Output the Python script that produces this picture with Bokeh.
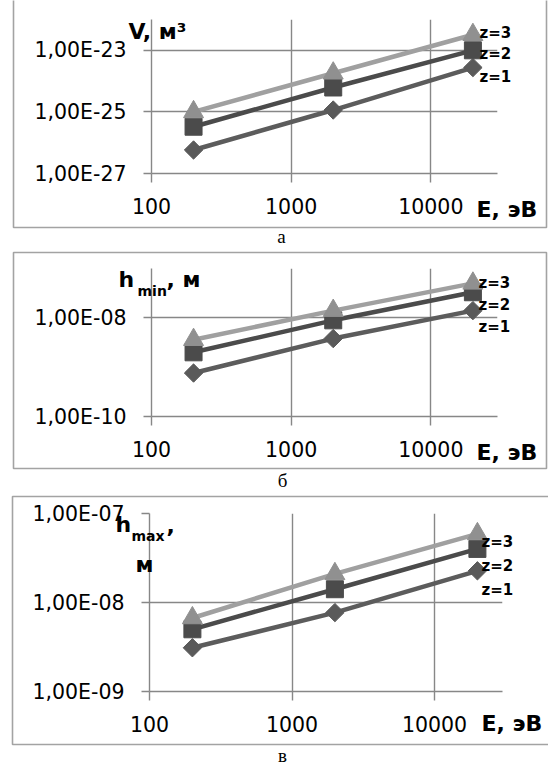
import math

from bokeh.plotting import figure
from bokeh.layouts import column
from bokeh.models import Range1d, FixedTicker, CustomJSTickFormatter, Label
from bokeh.embed import file_html
from bokeh.resources import INLINE

# ---- data -------------------------------------------------------------
energy_ev = [200, 2000, 20000]
series_names = ["z=1", "z=2", "z=3"]

volume_z1 = [5.8e-27, 1.15e-25, 2.75e-24]
volume_z2 = [3.3e-26, 6.2e-25, 1.0e-23]
volume_z3 = [1.0e-25, 1.8e-24, 3.2e-23]

hmin_z1 = [7.6e-10, 3.8e-9, 1.4e-8]
hmin_z2 = [2.0e-9, 8.9e-9, 3.3e-8]
hmin_z3 = [3.6e-9, 1.4e-8, 5.0e-8]

hmax_z1 = [3.1e-9, 7.7e-9, 2.27e-8]
hmax_z2 = [5.0e-9, 1.41e-8, 4.0e-8]
hmax_z3 = [6.7e-9, 2.1e-8, 5.9e-8]

x_ticks = [100, 1000, 10000]
x_tick_labels = ["100", "1000", "10000"]
volume_ticks = [1e-27, 1e-25, 1e-23]
volume_tick_labels = ["1,00E-27", "1,00E-25", "1,00E-23"]
hmin_ticks = [1e-10, 1e-8]
hmin_tick_labels = ["1,00E-10", "1,00E-08"]
hmax_ticks = [1e-9, 1e-8, 1e-7]
hmax_tick_labels = ["1,00E-09", "1,00E-08", "1,00E-07"]

# ---- styling ----------------------------------------------------------
W, H = 548, 767
SANS = "DejaVu Sans"
SERIF = "Liberation Serif"
GRID = "#878787"
BOX = "#a3a3a3"
SERIES_STYLE = [
    dict(line="#5c5c5c", fill="#5a5a5a", marker="square", size=13, angle=math.pi / 4),
    dict(line="#4b4b4b", fill="#4b4b4b", marker="square", size=17, angle=0.0),
    dict(line="#a0a0a0", fill="#909090", marker="triangle", size=20, angle=0.0),
]

# pick the text of the nearest listed tick (compared on the log scale)
LABEL_LOOKUP = """
let best = 0, dist = Infinity;
for (let i = 0; i < tick_values.length; i++) {
  const d = Math.abs(Math.log10(tick_values[i]) - Math.log10(tick));
  if (d < dist) { dist = d; best = i; }
}
return tick_texts[best];
"""


def free_frame(p):
    # keep each plot's own frame instead of lining it up with its neighbours
    if "frame_align" in p.properties():
        p.frame_align = False


def make_panel(height, frame, y_lim, y_ticks, y_labels, series):
    fl, ft, fr, fb = frame
    p = figure(width=W, height=height, x_axis_type="log", y_axis_type="log",
               x_range=Range1d(100, 30000), y_range=Range1d(*y_lim),
               toolbar_location=None, output_backend="svg",
               min_border_left=fl, min_border_top=ft,
               min_border_right=W - fr, min_border_bottom=height - fb)
    free_frame(p)
    p.outline_line_color = None
    p.background_fill_color = "white"
    p.border_fill_color = "white"

    xt = FixedTicker(ticks=x_ticks, minor_ticks=[])
    yt = FixedTicker(ticks=y_ticks, minor_ticks=[])
    p.xaxis.ticker = xt
    p.yaxis.ticker = yt
    p.xgrid.ticker = xt
    p.ygrid.ticker = yt
    p.xaxis.formatter = CustomJSTickFormatter(
        args=dict(tick_values=x_ticks, tick_texts=x_tick_labels), code=LABEL_LOOKUP)
    p.yaxis.formatter = CustomJSTickFormatter(
        args=dict(tick_values=y_ticks, tick_texts=y_labels), code=LABEL_LOOKUP)

    for ax, tick_out, standoff in ((p.xaxis, 9, 15), (p.yaxis, 8, 17)):
        ax.axis_line_color = GRID
        ax.axis_line_width = 1.4
        ax.major_tick_line_color = GRID
        ax.major_tick_line_width = 1.4
        ax.major_tick_out = tick_out
        ax.major_tick_in = 0
        ax.minor_tick_out = 0
        ax.minor_tick_in = 0
        ax.major_label_standoff = standoff
        ax.major_label_text_font = SANS
        ax.major_label_text_font_size = "20.5px"
        ax.major_label_text_color = "black"
    for g in (p.xgrid, p.ygrid):
        g.grid_line_color = GRID
        g.grid_line_width = 1.4

    for ys, st in zip(series, SERIES_STYLE):
        p.line(energy_ev, ys, line_color=st["line"], line_width=4.5)
        p.scatter(energy_ev, ys, marker=st["marker"], size=st["size"],
                  angle=st["angle"], fill_color=st["fill"], line_color=st["fill"])
    return p


panel_a = make_panel(251, (151, 19, 497, 173), (1e-27, 1e-22),
                     volume_ticks, volume_tick_labels,
                     [volume_z1, volume_z2, volume_z3])
panel_b = make_panel(243, (151, 17, 497, 165), (1e-10, 1e-7),
                     hmin_ticks, hmin_tick_labels,
                     [hmin_z1, hmin_z2, hmin_z3])
panel_c = make_panel(273, (149, 19, 502, 197), (1e-9, 1e-7),
                     hmax_ticks, hmax_tick_labels,
                     [hmax_z1, hmax_z2, hmax_z3])

# ---- transparent sheet over the three panels: frames, titles, captions ----
sheet = figure(width=W, height=H, x_range=Range1d(0, W), y_range=Range1d(H, 0),
               toolbar_location=None, output_backend="svg", min_border=0,
               x_axis_location=None, y_axis_location=None)
free_frame(sheet)
sheet.background_fill_color = None
sheet.border_fill_color = None
sheet.outline_line_color = None
sheet.xgrid.visible = False
sheet.ygrid.visible = False
sheet.margin = (-H, 0, 0, 0)

# chart-area frames (panel a is cut at the top, panel c on the right)
sheet.quad(left=[13, 13, 12], right=[546, 546, 570], top=[-10, 252, 496],
           bottom=[227, 468, 744], fill_color=None, line_color=BOX, line_width=1.6)


def put(items, font, size_px, style="bold", align="left"):
    # items give the baseline; texts are placed by their middle
    for txt, x, base in items:
        sheet.add_layout(Label(x=x, y=base - 0.345 * size_px,
                               x_units="canvas", y_units="canvas",
                               text=txt, text_font=font,
                               text_font_size=f"{size_px}px",
                               text_font_style=style, text_align=align,
                               text_baseline="middle", text_color="black"))


# axis titles
put([("V, м³", 128, 39), ("h", 118, 287), (", м", 166, 287),
     ("h", 115, 532), (",", 166, 532), ("м", 135, 572)], SANS, 22)
put([("min", 137, 295), ("max", 131, 540)], SANS, 14)
put([("E, эВ", 476, 217), ("E, эВ", 476, 459.5), ("E, эВ", 481, 731)], SANS, 22)

# series names next to the last points
z_rows = [(479, [82, 59, 38]), (478, [332, 310, 288]), (481, [595, 571, 547])]
put([(name, x, y) for x, ys in z_rows for name, y in zip(series_names, ys)],
    SANS, 15)

# panel captions
put([("а", 281, 243), ("б", 282, 487), ("в", 282, 762)], SERIF, 19,
    style="normal", align="center")

layout = column(panel_a, panel_b, panel_c, sheet, spacing=0)

with open("out.html", "w") as f:
    f.write(file_html(layout, INLINE))
